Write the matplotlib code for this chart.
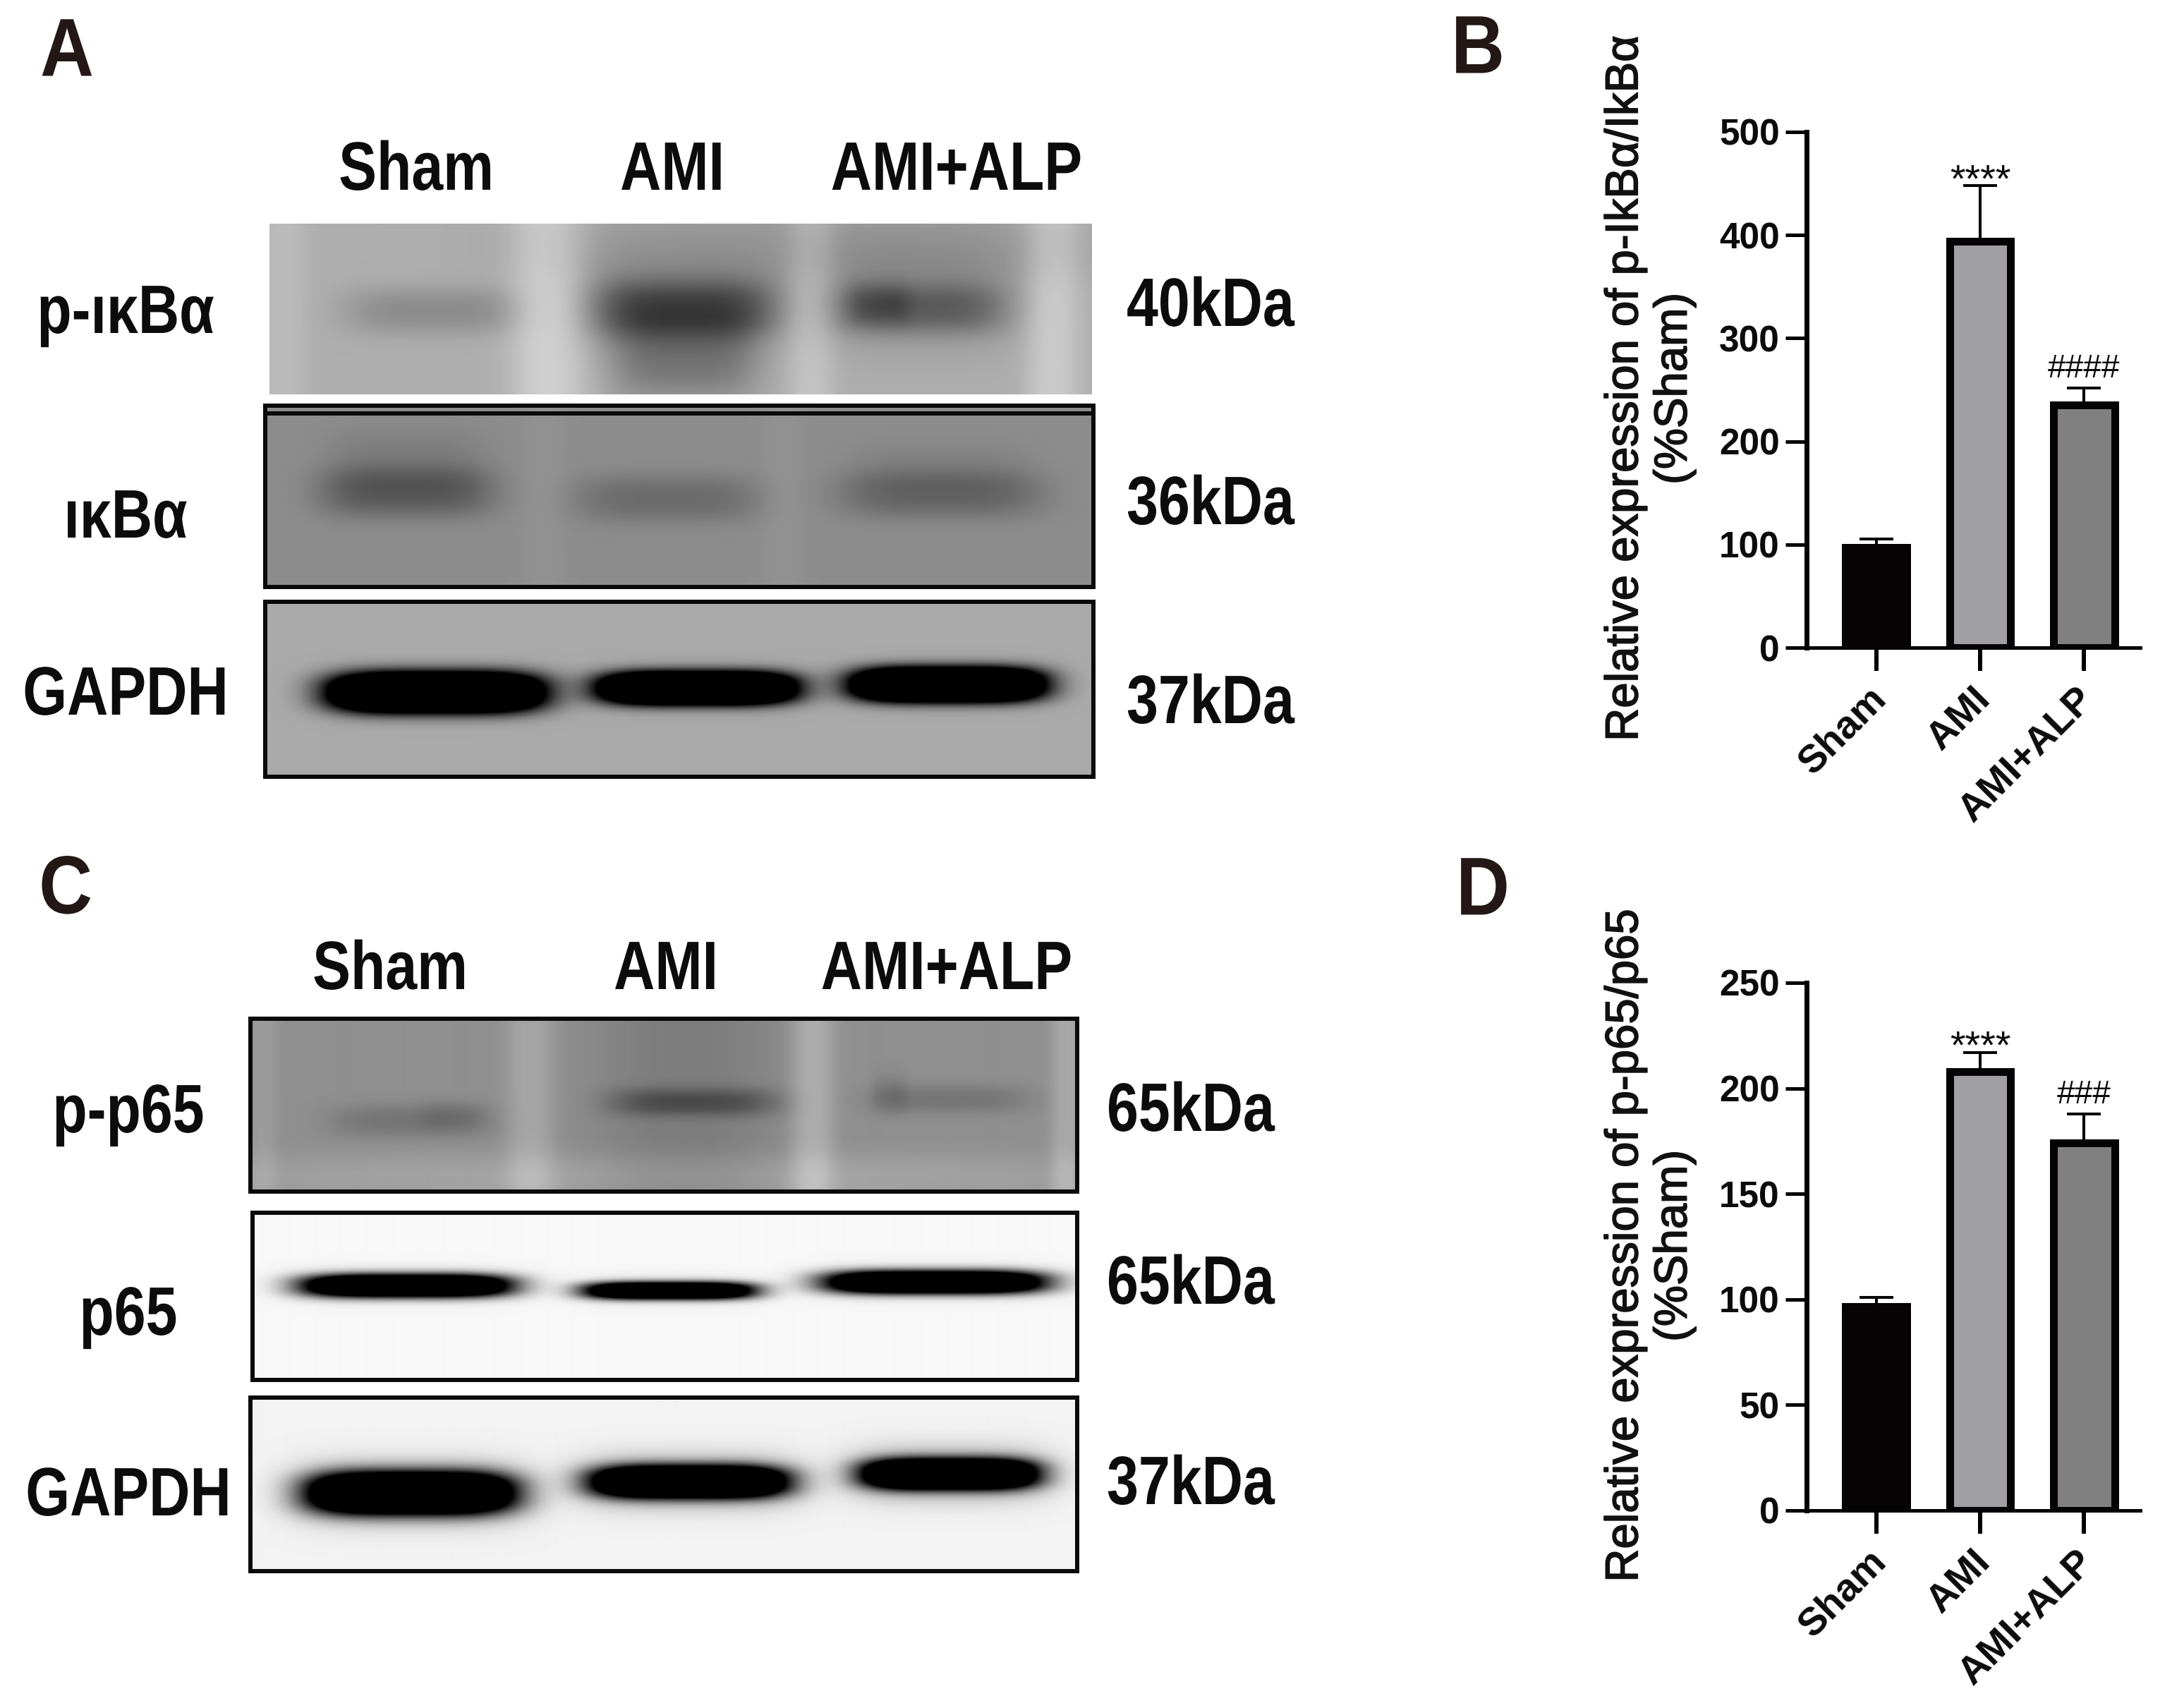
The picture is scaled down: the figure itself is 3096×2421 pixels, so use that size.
import numpy as np
import matplotlib
matplotlib.use("Agg")
import matplotlib.pyplot as plt
from matplotlib.patheffects import AbstractPathEffect, withStroke
from matplotlib.transforms import Affine2D, ScaledTranslation

W, H = 3096, 2421
DPI = 100
plt.rcParams['font.family'] = ['Liberation Sans', 'DejaVu Sans']

groups = ['Sham', 'AMI', 'AMI+ALP']
ikb_values = [97, 394, 235]
ikb_errors = [8, 54, 17]
ikb_marks = ['', '****', '####']
ikb_ticks = [0, 100, 200, 300, 400, 500]
p65_values = [96.5, 208, 174]
p65_errors = [4.5, 9, 14]
p65_marks = ['', '****', '###']
p65_ticks = [0, 50, 100, 150, 200, 250]
bar_colors = ['#060304', '#a0a0a4', '#808081']

# Blot look: (centre x, half width, lightness change) lanes; (x, y, half w, half h, darkness) bands
blots = {
    'p-ikb': dict(box=(382, 317, 1548, 559), bg=0.68, frame=False,
        lanes=[(776, 55, 0.13), (1492, 40, 0.11), (400, 35, 0.05), (1150, 35, 0.08)],
        bands=[(612, 440, 125, 34, 0.13), (970, 437, 132, 40, 0.30), (970, 430, 140, 75, 0.12),
               (970, 510, 105, 60, 0.20), (1303, 437, 125, 36, 0.22), (1245, 430, 45, 30, 0.10),
               (1303, 420, 140, 80, 0.10), (1150, 345, 400, 60, 0.08)]),
    'ikb': dict(box=(376, 575, 1550, 832), bg=0.55, frame=True,
        lanes=[(770, 30, 0.02), (1110, 30, 0.02)],
        bands=[(576, 697, 125, 36, 0.20), (576, 650, 115, 45, 0.06),
               (945, 706, 130, 34, 0.13), (1333, 700, 145, 34, 0.16), (1333, 660, 130, 35, 0.04)]),
    'gapdh-a': dict(box=(376, 853, 1550, 1101), bg=0.67, frame=True,
        lanes=[], bands=[(618, 981, 148, 27, 2.0), (988, 975, 136, 22, 2.0),
                         (1343, 970, 133, 23, 2.0), (618, 981, 165, 38, 0.10),
                         (988, 975, 155, 34, 0.10), (1343, 970, 150, 34, 0.10)]),
    'p-p65': dict(box=(355, 1444, 1527, 1689), bg=0.56, frame=True,
        lanes=[(751, 35, 0.09), (1151, 32, 0.12), (1510, 22, 0.10), (970, 130, -0.07), (372, 20, 0.05)],
        bands=[(582, 1589, 115, 24, 0.10), (640, 1580, 45, 20, 0.05), (982, 1562, 120, 20, 0.20),
               (1345, 1558, 112, 20, 0.10), (1260, 1550, 25, 30, 0.06), (940, 1670, 700, 35, -0.08)]),
    'p65': dict(box=(358, 1719, 1527, 1956), bg=0.97, frame=True,
        lanes=[], bands=[(576, 1822, 148, 16, 2.0), (948, 1829, 121, 12, 1.9), (1324, 1817, 156, 16, 2.0),
                         (576, 1822, 160, 26, 0.08), (948, 1829, 132, 22, 0.08), (1324, 1817, 168, 26, 0.08)]),
    'gapdh-c': dict(box=(355, 1981, 1527, 2227), bg=0.95, frame=True,
        lanes=[], bands=[(582, 2116, 146, 29, 2.0), (976, 2100, 138, 22, 2.0),
                         (1345, 2089, 124, 21, 2.0), (582, 2116, 160, 46, 0.30),
                         (976, 2100, 155, 40, 0.30), (1345, 2089, 140, 40, 0.30)]),
}

head_a = [(590, 'Sham'), (953, 'AMI'), (1356, 'AMI+ALP')]
head_c = [(553, 'Sham'), (944, 'AMI'), (1342, 'AMI+ALP')]
rows = [(178, 440, 'p-ıκBα'), (178, 730, 'ıκBα'), (178, 981, 'GAPDH'),
        (182, 1573, 'p-p65'), (182, 1860, 'p65'), (182, 2116, 'GAPDH')]
sizes = [(1716, 430, '40kDa'), (1716, 711, '36kDa'), (1716, 993, '37kDa'),
         (1688, 1571, '65kDa'), (1688, 1816, '65kDa'), (1688, 2100, '37kDa')]
letters = [(95, 71, 'A'), (2095, 67, 'B'), (93, 1258, 'C'), (2102, 1260, 'D')]

fig = plt.figure(figsize=(W / DPI, H / DPI), dpi=DPI, facecolor='white')
px = 72 / DPI


class Squeeze(AbstractPathEffect):
    """Narrows a text horizontally about a pixel column (no condensed face is installed)."""

    def __init__(self, sx, cx):
        super().__init__()
        self.sx, self.cx = sx, cx

    def draw_path(self, renderer, gc, tpath, affine, rgbFace=None):
        extra = Affine2D().translate(-self.cx, 0).scale(self.sx, 1).translate(self.cx, 0)
        renderer.draw_path(gc, tpath, affine + extra, rgbFace)


def rect(x0, y0, x1, y1):
    return [x0 / W, 1 - y1 / H, (x1 - x0) / W, (y1 - y0) / H]


def ftext(x, y, s, **kw):
    return fig.text(x / W, 1 - y / H, s, ha=kw.pop('ha', 'center'), va=kw.pop('va', 'center'), **kw)


def narrow(x, y, s, size=70, sx=0.83, color='#0c0c0c', dy=7):
    ftext(x, y + dy, s, weight='bold', fontsize=size, color=color, path_effects=[Squeeze(sx, x)])


def draw_blot(spec):
    x0, y0, x1, y1 = spec['box']
    xx, yy = np.meshgrid(np.arange(x0, x1), np.arange(y0, y1))
    img = np.full(xx.shape, spec['bg'], dtype=float)
    for cx, hw, d in spec['lanes']:
        img += d * np.exp(-np.abs((xx - cx) / hw) ** 2.5)
    for cx, cy, hw, hh, d in spec['bands']:
        img -= d * np.exp(-np.abs((xx - cx) / hw) ** 4) * np.exp(-np.abs((yy - cy) / hh) ** 2.5)
    ax = fig.add_axes(rect(x0, y0, x1, y1))
    ax.imshow(np.clip(img, 0, 1), cmap='gray', vmin=0, vmax=1, aspect='auto',
              extent=[x0, x1, y1, y0], interpolation='bilinear')
    ax.set_xticks([])
    ax.set_yticks([])
    for s in ax.spines.values():
        s.set_visible(spec['frame'])
        s.set_linewidth(6 * px)
        s.set_color('#0a0a0a')
    return ax


for name, spec in blots.items():
    ax = draw_blot(spec)
    if name == 'ikb':
        ax.axhline(586, color='#0a0a0a', lw=6 * px)

for x, s in head_a:
    narrow(x, 237, s)
for x, s in head_c:
    narrow(x, 1370, s)
for x, y, s in rows:
    narrow(x, y, s)
for x, y, s in sizes:
    narrow(x, y, s)
for x, y, s in letters:
    narrow(x, y, s, size=84, sx=0.9, color='#231815', dy=6)


def draw_bars(box, values, errors, marks, ticks, label, label_y):
    ax = fig.add_axes(rect(*box))
    ax.patch.set_alpha(0)
    xpos = np.arange(len(values))
    ax.bar(xpos, values, width=0.587, color=bar_colors, edgecolor='#060304', linewidth=11 * px, zorder=3)
    ax.errorbar(xpos, values, yerr=[[0] * len(errors), errors], fmt='none', ecolor='#060304',
                elinewidth=4 * px, capsize=24 * px, capthick=4 * px, zorder=2)
    ax.set_xlim(-0.669, 2.54)
    ax.set_ylim(0, ticks[-1])
    for s in ('top', 'right'):
        ax.spines[s].set_visible(False)
    ax.spines['left'].set_linewidth(7 * px)
    ax.spines['bottom'].set_linewidth(5 * px)
    ax.set_yticks(ticks)
    ax.set_yticklabels([str(t) for t in ticks], fontsize=37, fontweight='bold', color='#0c0c0c')
    ax.tick_params(axis='y', length=30 * px, width=5 * px, pad=6)
    ax.set_xticks(xpos)
    ax.set_xticklabels(groups, fontsize=40, fontweight='bold', rotation=45, ha='right',
                       va='top', rotation_mode='anchor', color='#0c0c0c')
    ax.tick_params(axis='x', length=33 * px, width=6 * px, pad=10)
    shift = ScaledTranslation(-12 / DPI, 0, fig.dpi_scale_trans)
    for lab in ax.get_xticklabels():
        lab.set_transform(lab.get_transform() + shift)
    for x, v, e, m in zip(xpos, values, errors, marks):
        if '*' in m:
            ax.annotate(m, (x, v + e), xytext=(0, 6 * px), textcoords='offset points', ha='center',
                        va='center', fontsize=40, color='#0c0c0c', annotation_clip=False)
        elif m:
            ax.annotate(m, (x, v + e), xytext=(0, 5 * px), textcoords='offset points', ha='center',
                        va='bottom', fontsize=33, color='#0c0c0c', annotation_clip=False)
    ftext(2339, label_y, label, rotation=90, fontsize=47, color='#111111', linespacing=1.2,
          multialignment='center', path_effects=[withStroke(linewidth=1.2, foreground='#111111')])
    return ax


draw_bars((2561, 187, 3034, 918), ikb_values, ikb_errors, ikb_marks, ikb_ticks,
          'Relative expression of p-IkBα/IkBα\n(%Sham)', 551)
draw_bars((2561, 1393, 3034, 2141), p65_values, p65_errors, p65_marks, p65_ticks,
          'Relative expression of p-p65/p65\n(%Sham)', 1766)

fig.savefig('out.png', dpi=DPI, facecolor='white')
